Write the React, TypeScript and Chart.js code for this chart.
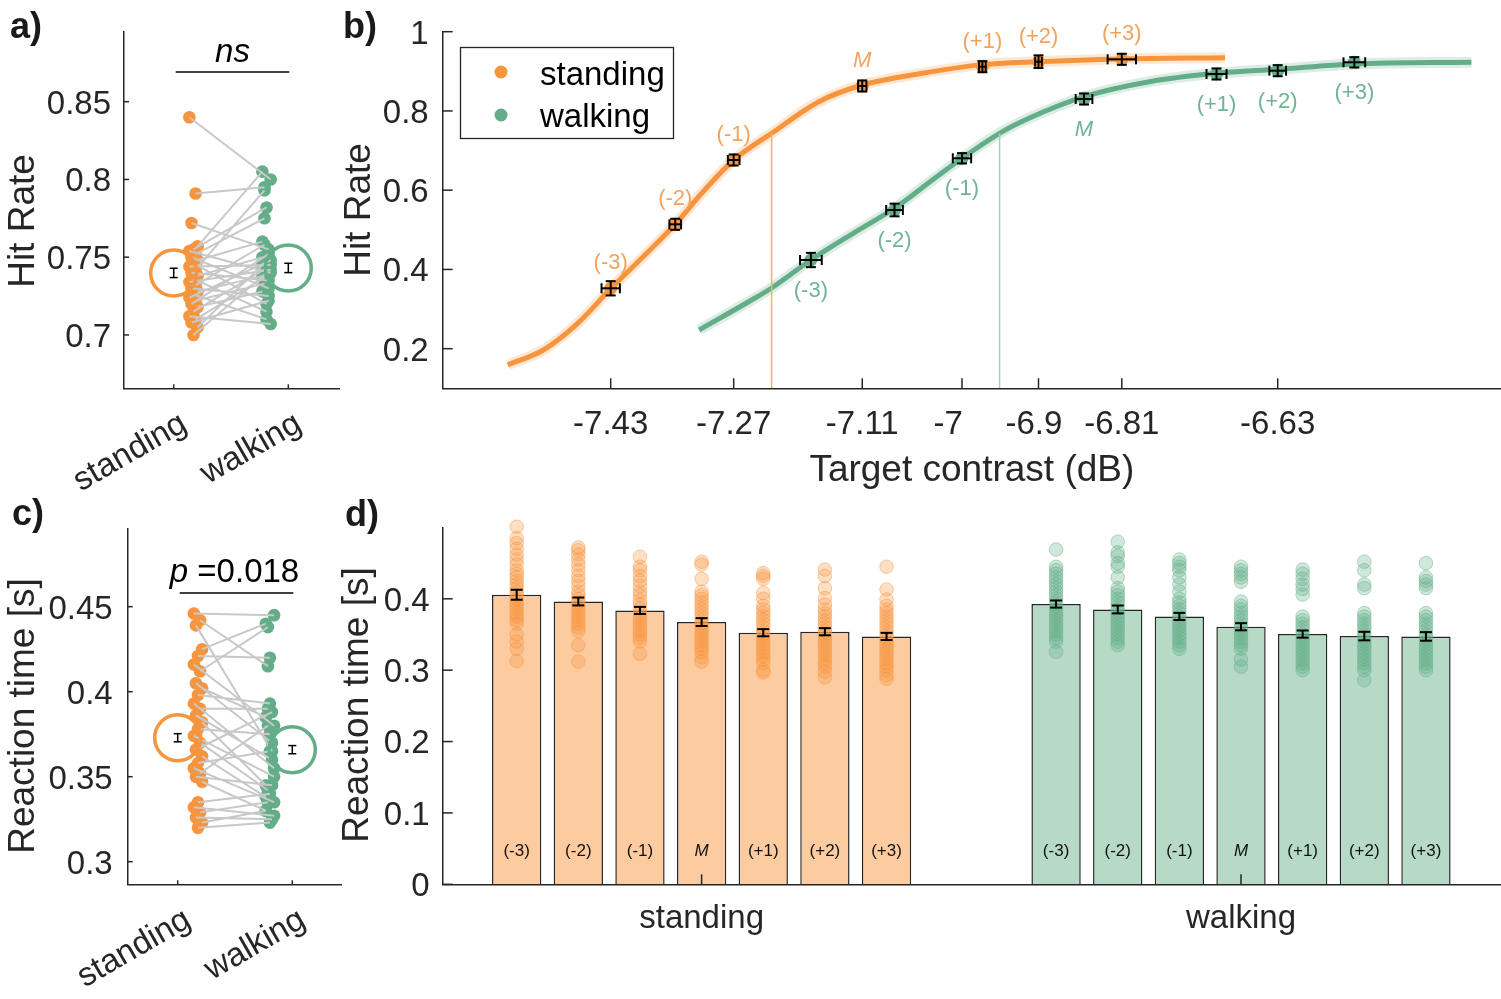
import React, { useEffect, useRef } from 'react';
import { Chart, registerables } from 'chart.js';
Chart.register(...registerables);

// ---------------- data ----------------
const conditions = ['standing', 'walking'];
const levelLabels = ['(-3)', '(-2)', '(-1)', 'M', '(+1)', '(+2)', '(+3)'];

// panel a: per-subject hit rate
const hitRateStanding = [0.840, 0.791, 0.772, 0.757, 0.755, 0.754, 0.752, 0.750, 0.748, 0.746, 0.744, 0.742, 0.740, 0.738, 0.736, 0.734, 0.732, 0.730, 0.728, 0.726, 0.724, 0.722, 0.720, 0.718, 0.715, 0.712, 0.710, 0.708, 0.705, 0.700];
const hitRateWalking = [0.800, 0.795, 0.755, 0.805, 0.782, 0.740, 0.775, 0.730, 0.760, 0.720, 0.745, 0.793, 0.735, 0.750, 0.715, 0.742, 0.758, 0.725, 0.738, 0.710, 0.748, 0.733, 0.752, 0.728, 0.743, 0.707, 0.737, 0.722, 0.745, 0.740];
const hitRateMean = [0.7399, 0.7431];
const hitRateSem = [0.003, 0.003];
const hitRateTicks = [0.7, 0.75, 0.8, 0.85];

// panel b: psychometric data
const contrastStanding = [-7.43, -7.3526, -7.2825, -7.1283, -6.9842, -6.9169, -6.817];
const hitStanding = [0.3524, 0.5139, 0.6762, 0.863, 0.9117, 0.9243, 0.9303];
const contrastErrStanding = [0.011, 0.007, 0.007, 0.005, 0.004, 0.004, 0.017];
const hitErrStanding = [0.018, 0.014, 0.014, 0.014, 0.014, 0.016, 0.014];
const contrastWalking = [-7.1899, -7.0896, -7.0087, -6.8623, -6.7034, -6.63, -6.5381];
const hitWalking = [0.4238, 0.55, 0.6805, 0.8302, 0.8933, 0.9016, 0.9228];
const contrastErrWalking = [0.013, 0.01, 0.011, 0.01, 0.012, 0.01, 0.013];
const hitErrWalking = [0.018, 0.016, 0.013, 0.014, 0.014, 0.014, 0.013];
const fitStandingX = [-7.5534, -7.5108, -7.4696, -7.4295, -7.3869, -7.3526, -7.3209, -7.2825, -7.237, -7.1804, -7.1283, -7.0565, -6.9871, -6.9169, -6.817, -6.6932];
const fitStandingY = [0.1589, 0.1967, 0.2641, 0.3524, 0.4408, 0.5139, 0.5922, 0.6762, 0.7436, 0.8233, 0.8655, 0.895, 0.9163, 0.9243, 0.9311, 0.9344];
const fitWalkingX = [-7.324, -7.263, -7.237, -7.1899, -7.1391, -7.0896, -7.0442, -7.0087, -6.9636, -6.9284, -6.8623, -6.7839, -6.7034, -6.63, -6.5381, -6.3977];
const fitWalkingY = [0.2472, 0.3204, 0.3532, 0.4238, 0.4912, 0.5543, 0.6257, 0.6805, 0.7436, 0.7814, 0.836, 0.8738, 0.895, 0.9051, 0.9185, 0.9228];
const thresholdContrast = [-7.237, -6.9636];
const thresholdHit = [0.7436, 0.7436];
const contrastTickValues = [-7.43, -7.2825, -7.1283, -7.0087, -6.9169, -6.817, -6.63];
const contrastTickLabels = ['-7.43', '-7.27', '-7.11', '-7   ', '-6.9 ', '-6.81', '-6.63'];
const hitTicks = [0.2, 0.4, 0.6, 0.8, 1];

// panel c: per-subject reaction time
const rtStanding = [0.446, 0.442, 0.439, 0.425, 0.421, 0.416, 0.412, 0.405, 0.402, 0.398, 0.393, 0.390, 0.386, 0.382, 0.378, 0.374, 0.370, 0.366, 0.362, 0.358, 0.355, 0.352, 0.350, 0.347, 0.335, 0.332, 0.329, 0.326, 0.323, 0.320];
const rtWalking = [0.445, 0.415, 0.365, 0.440, 0.420, 0.380, 0.438, 0.370, 0.385, 0.393, 0.355, 0.390, 0.360, 0.345, 0.375, 0.350, 0.342, 0.388, 0.338, 0.365, 0.335, 0.380, 0.345, 0.330, 0.340, 0.327, 0.335, 0.325, 0.330, 0.323];
const rtMean = [0.3729, 0.3659];
const rtSem = [0.0024, 0.0024];
const rtTicks = [0.3, 0.35, 0.4, 0.45];

// panel d: reaction time per contrast level
const rtLevelStanding = [0.4057, 0.3963, 0.3837, 0.3674, 0.3525, 0.3539, 0.3473];
const rtLevelWalking = [0.3927, 0.3851, 0.3753, 0.3609, 0.3506, 0.3478, 0.3473];
const rtLevelSemStanding = [0.007, 0.0055, 0.005, 0.0055, 0.005, 0.005, 0.005];
const rtLevelSemWalking = [0.005, 0.0055, 0.005, 0.005, 0.005, 0.006, 0.006];
const rtDotsStanding = [
  [0.501, 0.485, 0.478, 0.470, 0.462, 0.455, 0.448, 0.440, 0.435, 0.430, 0.425, 0.420, 0.415, 0.410, 0.405, 0.400, 0.395, 0.390, 0.385, 0.380, 0.375, 0.370, 0.365, 0.350, 0.340, 0.330, 0.313],
  [0.472, 0.468, 0.462, 0.455, 0.448, 0.440, 0.432, 0.425, 0.418, 0.410, 0.405, 0.400, 0.395, 0.390, 0.385, 0.380, 0.375, 0.370, 0.365, 0.360, 0.355, 0.335, 0.312],
  [0.459, 0.445, 0.440, 0.432, 0.425, 0.418, 0.410, 0.405, 0.398, 0.392, 0.386, 0.380, 0.375, 0.370, 0.365, 0.360, 0.355, 0.350, 0.345, 0.340, 0.323],
  [0.452, 0.448, 0.428, 0.410, 0.405, 0.400, 0.395, 0.390, 0.385, 0.380, 0.375, 0.370, 0.365, 0.360, 0.355, 0.350, 0.345, 0.340, 0.335, 0.330, 0.325, 0.318, 0.312],
  [0.436, 0.432, 0.428, 0.408, 0.400, 0.390, 0.385, 0.380, 0.375, 0.370, 0.365, 0.360, 0.355, 0.350, 0.345, 0.340, 0.335, 0.330, 0.325, 0.320, 0.315, 0.310, 0.300, 0.297],
  [0.441, 0.432, 0.415, 0.401, 0.392, 0.385, 0.380, 0.375, 0.370, 0.365, 0.360, 0.355, 0.350, 0.345, 0.340, 0.335, 0.330, 0.325, 0.320, 0.315, 0.310, 0.305, 0.298, 0.290],
  [0.445, 0.413, 0.399, 0.390, 0.385, 0.380, 0.375, 0.370, 0.365, 0.360, 0.355, 0.350, 0.345, 0.340, 0.335, 0.330, 0.325, 0.320, 0.315, 0.310, 0.305, 0.300, 0.293, 0.288],
];
const rtDotsWalking = [
  [0.469, 0.445, 0.440, 0.435, 0.430, 0.425, 0.420, 0.415, 0.410, 0.405, 0.400, 0.395, 0.390, 0.385, 0.380, 0.375, 0.370, 0.365, 0.360, 0.355, 0.350, 0.345, 0.340, 0.326],
  [0.480, 0.465, 0.460, 0.450, 0.445, 0.430, 0.415, 0.410, 0.405, 0.400, 0.395, 0.390, 0.385, 0.380, 0.375, 0.370, 0.365, 0.360, 0.355, 0.350, 0.345, 0.340, 0.335],
  [0.455, 0.450, 0.445, 0.440, 0.430, 0.420, 0.410, 0.400, 0.395, 0.390, 0.385, 0.380, 0.375, 0.370, 0.365, 0.360, 0.355, 0.350, 0.345, 0.340, 0.335, 0.330],
  [0.445, 0.440, 0.435, 0.430, 0.424, 0.396, 0.390, 0.385, 0.380, 0.375, 0.370, 0.365, 0.360, 0.355, 0.350, 0.345, 0.340, 0.335, 0.330, 0.315, 0.305],
  [0.441, 0.435, 0.428, 0.420, 0.414, 0.406, 0.375, 0.370, 0.365, 0.360, 0.355, 0.350, 0.345, 0.340, 0.335, 0.330, 0.325, 0.320, 0.315, 0.310, 0.305, 0.300],
  [0.452, 0.440, 0.420, 0.415, 0.380, 0.375, 0.370, 0.365, 0.360, 0.355, 0.350, 0.345, 0.340, 0.335, 0.330, 0.325, 0.320, 0.315, 0.310, 0.305, 0.300, 0.286],
  [0.450, 0.430, 0.425, 0.420, 0.415, 0.380, 0.375, 0.370, 0.365, 0.360, 0.355, 0.350, 0.345, 0.340, 0.335, 0.330, 0.325, 0.320, 0.315, 0.310, 0.305, 0.300],
];
const rtLevelTicks = [0, 0.1, 0.2, 0.3, 0.4];

// ---------------- styles ----------------
const PAGE_W = 1501;
const PAGE_H = 999;
const FONT = '"Liberation Sans", Arial, Helvetica, sans-serif';
const AX = '#262626';
const ORANGE = '#F7953F';
const GREEN = '#63AE89';
const ORANGE_RGB = '247,149,63';
const GREEN_RGB = '99,174,137';
const ORANGE_TXT = '#F3A35C';
const GREEN_TXT = '#6FB594';
const ORANGE_BAR = '#FDCBA0';
const GREEN_BAR = '#B7DAC7';
const GRAY_LINK = 'rgb(200,200,200)';

type Box = { l: number; t: number; r: number; b: number };

function txt(ctx: CanvasRenderingContext2D, s: string, x: number, y: number, size: number, o: any = {}) {
  ctx.save();
  ctx.font = `${o.italic ? 'italic ' : ''}${o.bold ? 'bold ' : ''}${size}px ${FONT}`;
  ctx.fillStyle = o.color ?? AX;
  ctx.textAlign = o.align ?? 'left';
  ctx.textBaseline = 'alphabetic';
  ctx.translate(x, y);
  if (o.rot) ctx.rotate(o.rot);
  ctx.fillText(s, 0, 0);
  ctx.restore();
}

function seg(ctx: CanvasRenderingContext2D, x1: number, y1: number, x2: number, y2: number, color = AX, w = 1.5) {
  ctx.save();
  ctx.strokeStyle = color;
  ctx.lineWidth = w;
  ctx.beginPath();
  ctx.moveTo(x1, y1);
  ctx.lineTo(x2, y2);
  ctx.stroke();
  ctx.restore();
}

function vErr(ctx: CanvasRenderingContext2D, x: number, y1: number, y2: number, cap: number, w = 1.5) {
  seg(ctx, x, y1, x, y2, '#000', w);
  seg(ctx, x - cap, y1, x + cap, y1, '#000', w);
  seg(ctx, x - cap, y2, x + cap, y2, '#000', w);
}

function hErr(ctx: CanvasRenderingContext2D, x1: number, x2: number, y: number, cap: number, w = 1.5) {
  seg(ctx, x1, y, x2, y, '#000', w);
  seg(ctx, x1, y - cap, x1, y + cap, '#000', w);
  seg(ctx, x2, y - cap, x2, y + cap, '#000', w);
}

function dot(ctx: CanvasRenderingContext2D, x: number, y: number, r: number, fill: string, stroke?: string) {
  ctx.save();
  ctx.beginPath();
  ctx.arc(x, y, r, 0, Math.PI * 2);
  ctx.fillStyle = fill;
  ctx.fill();
  if (stroke) {
    ctx.strokeStyle = stroke;
    ctx.lineWidth = 1;
    ctx.stroke();
  }
  ctx.restore();
}

function yAxisDecor(chart: any, ticks: number[], tickLen: number, gap: number, size: number) {
  const { ctx, chartArea: ca, scales } = chart;
  ticks.forEach((v) => {
    const py = scales.y.getPixelForValue(v);
    seg(ctx, ca.left, py, ca.left + tickLen, py);
    txt(ctx, String(v), ca.left - gap, py + size * 0.36, size, { align: 'right' });
  });
}

function axisScale(min: number, max: number, extra: any = {}) {
  return {
    type: 'linear',
    min,
    max,
    grid: { display: false, drawTicks: false },
    border: { display: true, color: AX, width: 1.5, ...(extra.border || {}) },
    ticks: { display: false },
    afterFit: (s: any) => {
      if (s.isHorizontal()) s.height = 0;
      else s.width = 0;
    },
    ...Object.fromEntries(Object.entries(extra).filter(([k]) => k !== 'border')),
  };
}

function baseOptions(box: Box, scales: any) {
  return {
    responsive: false,
    animation: false,
    devicePixelRatio: 1,
    events: [],
    layout: {
      autoPadding: false,
      padding: { left: box.l, top: box.t, right: PAGE_W - box.r, bottom: PAGE_H - box.b },
    },
    plugins: { legend: { display: false }, tooltip: { enabled: false }, title: { display: false } },
    scales,
  };
}

// ---------------- panels a & c ----------------
function pairedConfig(p: any) {
  const { standing, walking, mean, sem, box, xMin, xMax, yMin, yMax, yTicks, sigY, sig, title, titleY, panel, panelXY, sOff, wOff, yGap } = p;
  const jit = (i: number) => (((i * 3) % 5) - 2) * 0.018;
  const sPts = standing.map((y: number, i: number) => ({ x: sOff + jit(i), y }));
  const wPts = walking.map((y: number, i: number) => ({ x: wOff - jit(i), y }));
  const links: any[] = [];
  standing.forEach((_: number, i: number) => {
    links.push({ ...sPts[i] }, { ...wPts[i] }, { x: wPts[i].x, y: null });
  });
  const means = mean.map((y: number, i: number) => ({ x: i + 1, y }));

  const plugin = {
    id: 'paired_' + panel,
    afterDraw(chart: any) {
      const { ctx, chartArea: ca, scales } = chart;
      const xs = scales.x;
      const ys = scales.y;
      mean.forEach((m: number, i: number) => {
        vErr(ctx, xs.getPixelForValue(i + 1), ys.getPixelForValue(m + sem[i]), ys.getPixelForValue(m - sem[i]), 4, 1.5);
      });
      yAxisDecor(chart, yTicks, 5, yGap, 33);
      conditions.forEach((c, i) => {
        const px = xs.getPixelForValue(i + 1);
        seg(ctx, px, ca.bottom, px, ca.bottom - 4);
        txt(ctx, c, px + 15, ca.bottom + 41, 33, { align: 'right', rot: -Math.PI / 6 });
      });
      const sy = ys.getPixelForValue(sigY);
      const x1 = xs.getPixelForValue(1) + 2;
      const x2 = xs.getPixelForValue(2) + 1;
      seg(ctx, x1, sy, x2, sy, '#000', 1.5);
      const mid = (x1 + x2) / 2;
      if (sig === 'ns') {
        txt(ctx, 'ns', mid, sy - 10, 33, { italic: true, align: 'center', color: '#000' });
      } else {
        ctx.save();
        ctx.font = `italic 33px ${FONT}`;
        const w1 = ctx.measureText('p').width;
        ctx.font = `33px ${FONT}`;
        const w2 = ctx.measureText(' =' + sig).width;
        ctx.restore();
        const start = mid - (w1 + w2) / 2 - 2;
        txt(ctx, 'p', start, sy - 11, 33, { italic: true, color: '#000' });
        txt(ctx, ' =' + sig, start + w1, sy - 11, 33, { color: '#000' });
      }
      txt(ctx, title, 34, titleY, 37, { align: 'center', rot: -Math.PI / 2 });
      txt(ctx, panel, panelXY[0], panelXY[1], 36, { bold: true, color: '#1a1a1a' });
    },
  };

  return {
    type: 'line',
    data: {
      datasets: [
        {
          data: means,
          showLine: false,
          pointRadius: 23,
          pointBorderWidth: 3.5,
          pointBorderColor: [ORANGE, GREEN],
          pointBackgroundColor: 'rgba(255,255,255,0)',
        },
        {
          data: links,
          borderColor: GRAY_LINK,
          borderWidth: 2,
          pointRadius: 0,
          spanGaps: false,
        },
        { data: sPts, showLine: false, pointRadius: 6.3, pointBorderWidth: 0, pointBackgroundColor: ORANGE },
        { data: wPts, showLine: false, pointRadius: 6.3, pointBorderWidth: 0, pointBackgroundColor: GREEN },
      ],
    },
    options: baseOptions(box, {
      x: axisScale(xMin, xMax),
      y: axisScale(yMin, yMax),
    }),
    plugins: [plugin],
  };
}

function makePanelA() {
  return pairedConfig({
    standing: hitRateStanding,
    walking: hitRateWalking,
    mean: hitRateMean,
    sem: hitRateSem,
    box: { l: 124, t: 31.7, r: 339.3, b: 388.3 },
    xMin: 0.5663,
    xMax: 2.445,
    yMin: 0.6657,
    yMax: 0.895,
    yTicks: hitRateTicks,
    sigY: 0.8691,
    sig: 'ns',
    title: 'Hit Rate',
    titleY: 221,
    panel: 'a)',
    panelXY: [10, 38],
    sOff: 1.173,
    wOff: 1.81,
    yGap: 13,
  });
}

function makePanelC() {
  return pairedConfig({
    standing: rtStanding,
    walking: rtWalking,
    mean: rtMean,
    sem: rtSem,
    box: { l: 127.7, t: 528.3, r: 342, b: 884.3 },
    xMin: 0.5637,
    xMax: 2.4337,
    yMin: 0.2867,
    yMax: 0.4961,
    yTicks: rtTicks,
    sigY: 0.4581,
    sig: '0.018',
    title: 'Reaction time [s]',
    titleY: 716,
    panel: 'c)',
    panelXY: [12, 525],
    sOff: 1.177,
    wOff: 1.805,
    yGap: 15,
  });
}

// ---------------- panel b ----------------
function makePanelB() {
  const box = { l: 442.7, t: 31.7, r: 1501, b: 388.3 };
  const toPts = (xs: number[], ys: number[]) => xs.map((x, i) => ({ x, y: ys[i] }));
  const fitS = toPts(fitStandingX, fitStandingY);
  const fitW = toPts(fitWalkingX, fitWalkingY);
  const hitMin = 0.1;

  const plugin = {
    id: 'decorB',
    afterDatasetsDraw(chart: any) {
      const { ctx, scales } = chart;
      const xs = scales.x;
      const ys = scales.y;
      const groups = [
        { cx: contrastStanding, hy: hitStanding, ex: contrastErrStanding, ey: hitErrStanding, color: ORANGE_TXT, off: -27 },
        { cx: contrastWalking, hy: hitWalking, ex: contrastErrWalking, ey: hitErrWalking, color: GREEN_TXT, off: 29 },
      ];
      groups.forEach((g) => {
        g.cx.forEach((x, i) => {
          const px = xs.getPixelForValue(x);
          const py = ys.getPixelForValue(g.hy[i]);
          hErr(ctx, xs.getPixelForValue(x - g.ex[i]), xs.getPixelForValue(x + g.ex[i]), py, 5, 2);
          vErr(ctx, px, ys.getPixelForValue(g.hy[i] + g.ey[i]), ys.getPixelForValue(g.hy[i] - g.ey[i]), 5, 2);
          const lab = levelLabels[i];
          txt(ctx, lab, px, py + g.off + 22 * 0.36, 22, { align: 'center', color: g.color, italic: lab === 'M' });
        });
      });
    },
    afterDraw(chart: any) {
      const { ctx, chartArea: ca, scales } = chart;
      const xs = scales.x;
      yAxisDecor(chart, hitTicks, 10, 14, 33);
      contrastTickValues.forEach((v, i) => {
        const px = xs.getPixelForValue(v);
        seg(ctx, px, ca.bottom, px, ca.bottom - 10);
        txt(ctx, contrastTickLabels[i], px, ca.bottom + 46, 33, { align: 'center' });
      });
      txt(ctx, 'Target contrast (dB)', (ca.left + ca.right) / 2, 481, 37, { align: 'center' });
      txt(ctx, 'Hit Rate', 370, 210, 37, { align: 'center', rot: -Math.PI / 2 });
      txt(ctx, 'b)', 343, 38, 36, { bold: true, color: '#1a1a1a' });
      ctx.save();
      ctx.fillStyle = '#fff';
      ctx.fillRect(460.5, 47.5, 213, 91);
      ctx.strokeStyle = AX;
      ctx.lineWidth = 1.3;
      ctx.strokeRect(460.5, 47.5, 213, 91);
      ctx.restore();
      dot(ctx, 501, 72, 6.5, ORANGE);
      dot(ctx, 501, 115, 6.5, GREEN);
      txt(ctx, conditions[0], 540, 85, 33, { color: '#000' });
      txt(ctx, conditions[1], 540, 127, 33, { color: '#000' });
    },
  };

  return {
    type: 'line',
    data: {
      datasets: [
        { data: toPts(contrastStanding, hitStanding), showLine: false, pointRadius: 6.5, pointBorderWidth: 0, pointBackgroundColor: ORANGE },
        { data: toPts(contrastWalking, hitWalking), showLine: false, pointRadius: 6.5, pointBorderWidth: 0, pointBackgroundColor: GREEN },
        {
          data: [{ x: thresholdContrast[0], y: hitMin }, { x: thresholdContrast[0], y: thresholdHit[0] }],
          borderColor: '#EDB27C',
          borderWidth: 1.5,
          pointRadius: 0,
        },
        {
          data: [{ x: thresholdContrast[1], y: hitMin }, { x: thresholdContrast[1], y: thresholdHit[1] }],
          borderColor: '#A3CFB9',
          borderWidth: 1.5,
          pointRadius: 0,
        },
        { data: fitS, borderColor: ORANGE, borderWidth: 5, pointRadius: 0, cubicInterpolationMode: 'monotone' },
        { data: fitW, borderColor: GREEN, borderWidth: 5, pointRadius: 0, cubicInterpolationMode: 'monotone' },
        { data: fitS, borderColor: `rgba(${ORANGE_RGB},0.22)`, borderWidth: 11, pointRadius: 0, cubicInterpolationMode: 'monotone' },
        { data: fitW, borderColor: `rgba(${GREEN_RGB},0.22)`, borderWidth: 11, pointRadius: 0, cubicInterpolationMode: 'monotone' },
      ],
    },
    options: baseOptions(box, {
      x: axisScale(-7.6315, -6.3622),
      y: axisScale(0.1, 1),
    }),
    plugins: [plugin],
  };
}

// ---------------- panel d ----------------
function makePanelD() {
  const box = { l: 442.7, t: 527.8, r: 1501, b: 884.3 };
  const groupPos = conditions.map((_, k) => k + 1);
  const datasets = levelLabels.map((lab, i) => ({
    label: lab,
    data: groupPos.map((g, k) => ({ x: g, y: (k === 0 ? rtLevelStanding : rtLevelWalking)[i] })),
    backgroundColor: [ORANGE_BAR, GREEN_BAR],
    borderColor: AX,
    borderWidth: 1.5,
    categoryPercentage: 0.8,
    barPercentage: 0.8,
  }));

  const plugin = {
    id: 'decorD',
    afterDatasetsDraw(chart: any) {
      const { ctx, chartArea: ca, scales } = chart;
      const ys = scales.y;
      const xs = scales.x;
      levelLabels.forEach((lab, i) => {
        const meta = chart.getDatasetMeta(i);
        [rtDotsStanding[i], rtDotsWalking[i]].forEach((vals, g) => {
          const el = meta.data[g];
          const rgb = g === 0 ? ORANGE_RGB : GREEN_RGB;
          vals.forEach((v) => dot(ctx, el.x, ys.getPixelForValue(v), 6.8, `rgba(${rgb},0.3)`, `rgba(${rgb},0.45)`));
        });
      });
      levelLabels.forEach((lab, i) => {
        const meta = chart.getDatasetMeta(i);
        [[rtLevelStanding, rtLevelSemStanding], [rtLevelWalking, rtLevelSemWalking]].forEach(([m, s], g) => {
          const el = meta.data[g];
          vErr(ctx, el.x, ys.getPixelForValue(m[i] + s[i]), ys.getPixelForValue(m[i] - s[i]), 6, 2);
          txt(ctx, lab, el.x, ca.bottom - 28, 17, { align: 'center', color: '#111', italic: lab === 'M' });
        });
      });
      groupPos.forEach((g, k) => {
        const px = xs.getPixelForValue(g);
        seg(ctx, px, ca.bottom, px, ca.bottom - 10);
        txt(ctx, conditions[k], px, ca.bottom + 44, 33, { align: 'center' });
      });
    },
    afterDraw(chart: any) {
      const { ctx } = chart;
      yAxisDecor(chart, rtLevelTicks, 10, 13, 33);
      txt(ctx, 'Reaction time [s]', 368, 705, 37, { align: 'center', rot: -Math.PI / 2 });
      txt(ctx, 'd)', 345, 526, 36, { bold: true, color: '#1a1a1a' });
    },
  };

  return {
    type: 'bar',
    data: { datasets },
    options: baseOptions(box, {
      x: axisScale(0.52, 2.482, {
        offset: false,
        border: { z: 1 },
        afterBuildTicks: (s: any) => {
          s.ticks = groupPos.map((v) => ({ value: v }));
        },
      }),
      y: axisScale(0, 0.4995),
    }),
    plugins: [plugin],
  };
}

// ---------------- components ----------------
function ChartCanvas({ make }: { make: () => any }) {
  const ref = useRef<HTMLCanvasElement>(null);
  useEffect(() => {
    const chart = new Chart(ref.current as HTMLCanvasElement, make() as any);
    return () => chart.destroy();
  }, []);
  return (
    <canvas
      ref={ref}
      width={PAGE_W}
      height={PAGE_H}
      style={{ position: 'absolute', left: 0, top: 0, width: PAGE_W, height: PAGE_H }}
    />
  );
}

export default function App() {
  return (
    <div style={{ position: 'absolute', left: 0, top: 0, width: PAGE_W, height: PAGE_H, background: '#fff', overflow: 'hidden' }}>
      <ChartCanvas make={makePanelA} />
      <ChartCanvas make={makePanelB} />
      <ChartCanvas make={makePanelC} />
      <ChartCanvas make={makePanelD} />
    </div>
  );
}
